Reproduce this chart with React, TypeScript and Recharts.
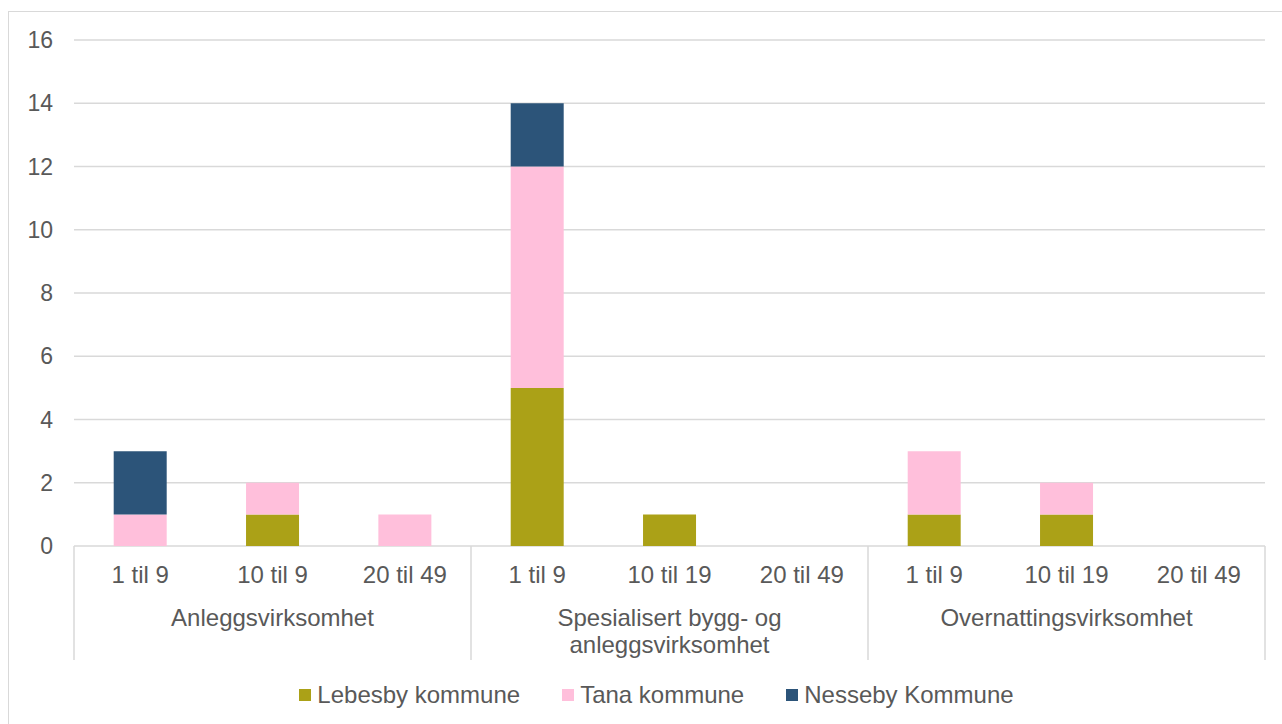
import React from "react";
import { BarChart, Bar, XAxis, YAxis, CartesianGrid } from "recharts";

const groups = ["Anleggsvirksomhet", "Spesialisert bygg- og\nanleggsvirksomhet", "Overnattingsvirksomhet"];
const sizes = [
  ["1 til 9", "10 til 9", "20 til 49"],
  ["1 til 9", "10 til 19", "20 til 49"],
  ["1 til 9", "10 til 19", "20 til 49"],
];
const lebesby = [0, 1, 0, 5, 1, 0, 1, 1, 0];
const tana = [1, 1, 1, 7, 0, 0, 2, 1, 0];
const nesseby = [2, 0, 0, 2, 0, 0, 0, 0, 0];
const yTicks = [0, 2, 4, 6, 8, 10, 12, 14, 16];

const series = [
  { key: "lebesby", name: "Lebesby kommune", color: "#ABA117" },
  { key: "tana", name: "Tana kommune", color: "#FFBFDB" },
  { key: "nesseby", name: "Nesseby Kommune", color: "#2C5479" },
];

const data = groups.flatMap((g, gi) =>
  sizes[gi].map((s, si) => {
    const i = gi * 3 + si;
    return { key: `${gi}|${si}`, lebesby: lebesby[i], tana: tana[i], nesseby: nesseby[i] };
  })
);

const FONT = "'Liberation Sans', Arial, sans-serif";
const TEXT = "#595959";
const LINE = "#d9d9d9";
const AXIS_H = 114;

// one tick per category: size label, group label on the middle one, separators on group edges
function CatTick({ x, y, payload }: any) {
  const [gi, si] = String(payload.value).split("|").map(Number);
  const half = payload.offset || 66;
  const lines = groups[gi].split("\n");
  const isLast = gi === groups.length - 1 && si === 2;
  return (
    <g>
      <text x={x} y={y + 37} textAnchor="middle" fill={TEXT} fontSize={24} fontFamily={FONT}>
        {sizes[gi][si]}
      </text>
      {si === 0 && <line x1={x - half} y1={y} x2={x - half} y2={y + AXIS_H} stroke={LINE} strokeWidth={1.5} />}
      {isLast && <line x1={x + half} y1={y} x2={x + half} y2={y + AXIS_H} stroke={LINE} strokeWidth={1.5} />}
      {si === 1 && (
        <text x={x} y={y + 80} textAnchor="middle" fill={TEXT} fontSize={24} fontFamily={FONT}>
          {lines.map((l, i) => (
            <tspan key={i} x={x} dy={i === 0 ? 0 : 27}>
              {l}
            </tspan>
          ))}
        </text>
      )}
    </g>
  );
}

export default function App() {
  return (
    <>
      <style>{"body{margin:0;overflow:hidden;background:#fff}"}</style>
      <div
        style={{
          position: "absolute",
          left: 8,
          top: 11,
          width: 1290,
          height: 730,
          border: `1px solid ${LINE}`,
          boxSizing: "border-box",
          background: "#fff",
        }}
      >
        <BarChart
          width={1280}
          height={710}
          data={data}
          margin={{ top: 28, right: 24, bottom: 62, left: 0 }}
          barCategoryGap="30%"
        >
          <CartesianGrid vertical={false} stroke={LINE} strokeWidth={1.5} />
          <XAxis
            dataKey="key"
            height={AXIS_H}
            axisLine={false}
            tickLine={false}
            tickSize={0}
            tickMargin={0}
            interval={0}
            tick={<CatTick />}
          />
          <YAxis
            width={65}
            domain={[0, 16]}
            ticks={yTicks}
            axisLine={false}
            tickLine={false}
            tickSize={0}
            tickMargin={21}
            tick={{ fill: TEXT, fontSize: 23, fontFamily: FONT }}
          />
          {series.map((s) => (
            <Bar key={s.key} dataKey={s.key} name={s.name} stackId="a" fill={s.color} isAnimationActive={false} />
          ))}
        </BarChart>
        <div
          style={{
            position: "absolute",
            left: 0,
            width: 1295,
            top: 670,
            height: 25,
            display: "flex",
            justifyContent: "center",
            alignItems: "center",
            fontFamily: FONT,
            fontSize: 24,
            color: TEXT,
          }}
        >
          {series.map((s, i) => (
            <div key={s.key} style={{ display: "flex", alignItems: "center", marginLeft: i === 0 ? 0 : 42 }}>
              <span style={{ width: 12, height: 12, background: s.color, marginRight: 6, display: "inline-block" }} />
              <span>{s.name}</span>
            </div>
          ))}
        </div>
      </div>
    </>
  );
}
